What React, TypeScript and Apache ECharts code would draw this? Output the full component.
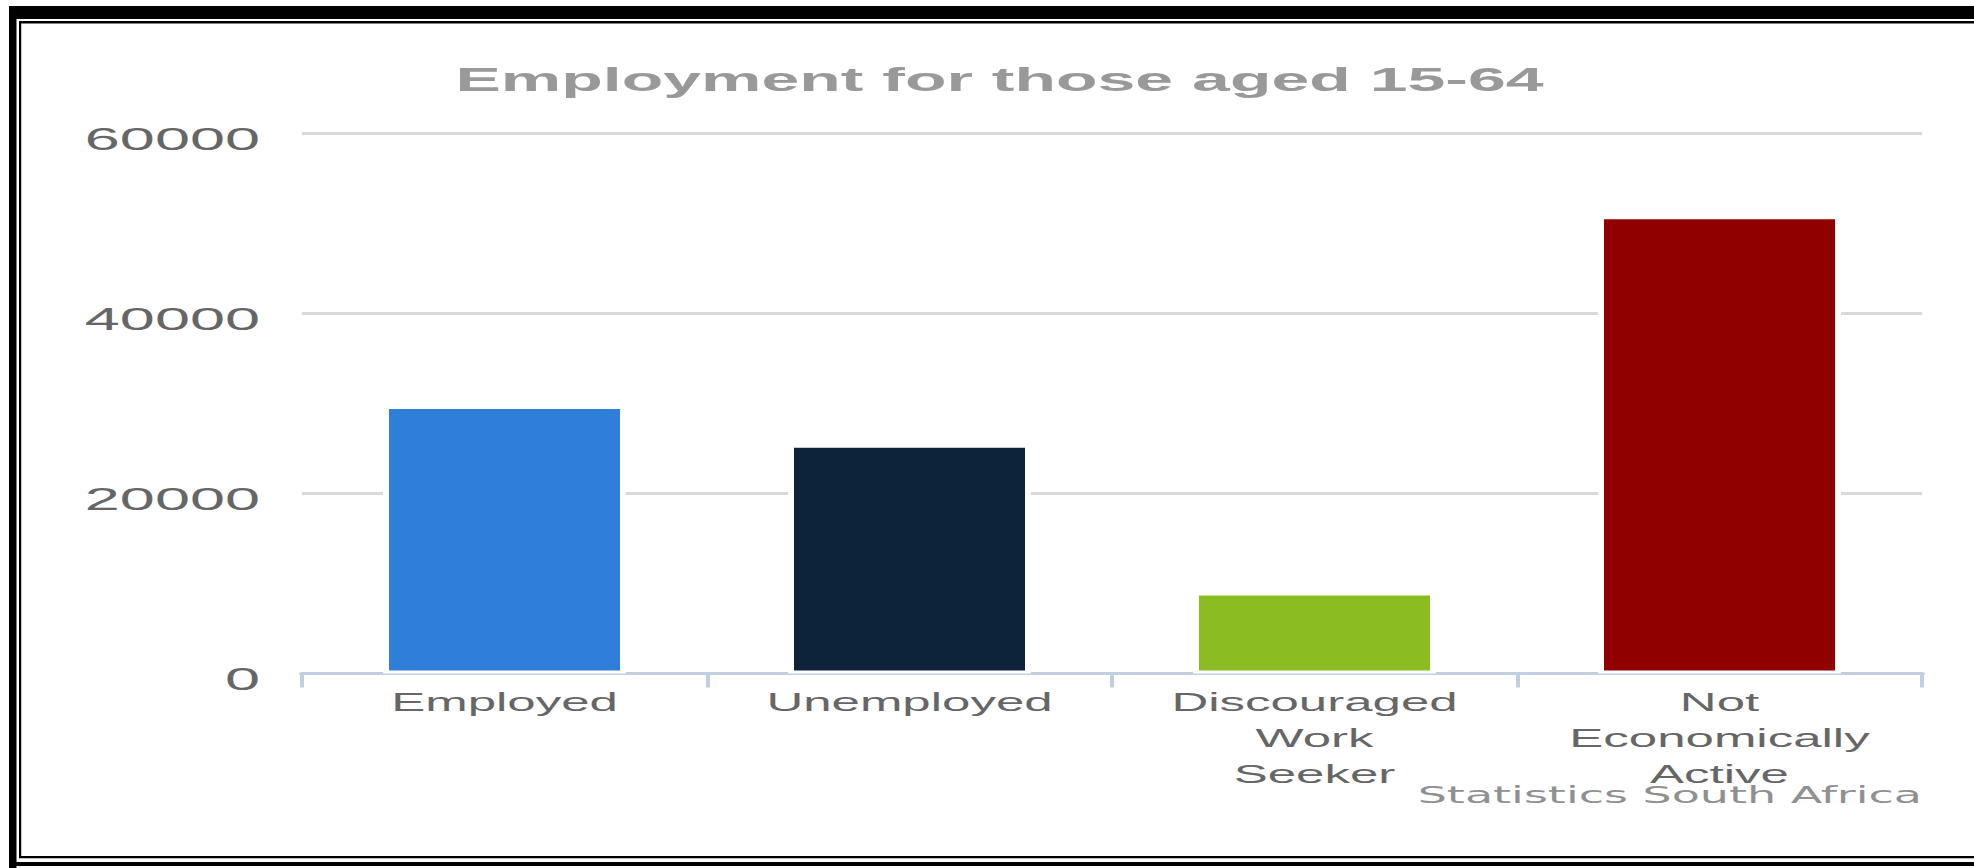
import React, { useEffect, useRef } from "react";
import * as echarts from "echarts";

const TITLE = "Employment for those aged 15-64";
const CREDIT = "Statistics South Africa";
const categories = ["Employed", "Unemployed", "Discouraged Work Seeker", "Not Economically Active"];
const values = [29700, 25400, 9000, 50800];
const barColors = ["#2f7ed8", "#0d233a", "#8bbc21", "#910000"];
const yTicks = [0, 20000, 40000, 60000];

const FULL_W = 1974;
const H = 868;
const SX = 2; // horizontal stretch of the reference
const W = FULL_W / SX;

export default function App() {
  const ref = useRef<HTMLDivElement>(null);
  useEffect(() => {
    if (!ref.current) return;
    const chart = echarts.init(ref.current, undefined, { renderer: "svg", width: W, height: H });
    const frame = "#000";
    chart.setOption({
      animation: false,
      backgroundColor: "#fff",
      grid: { left: 151, right: W - 961, top: 133.3, bottom: H - 673.5, containLabel: false },
      xAxis: {
        type: "category",
        data: categories,
        axisLine: { show: true, lineStyle: { color: "#c0d0e0", width: 3 } },
        axisTick: { show: true, length: 14, lineStyle: { color: "#c0d0e0", width: 2 } },
        axisLabel: {
          interval: 0,
          color: "#666",
          fontFamily: "Liberation Sans",
          fontSize: 25.5,
          lineHeight: 36,
          margin: 11,
          formatter: (v: string) => v.split(" ").join("\n"),
        },
        splitLine: { show: false },
      },
      yAxis: {
        type: "value",
        min: yTicks[0],
        max: yTicks[yTicks.length - 1],
        interval: yTicks[1] - yTicks[0],
        axisLine: { show: false },
        axisTick: { show: false },
        axisLabel: {
          color: "#666",
          fontFamily: "Liberation Sans",
          fontSize: 31.5,
          margin: 21,
          verticalAlign: "top",
          lineHeight: 12,
          formatter: (v: number) => String(v),
        },
        splitLine: { show: true, lineStyle: { color: "#d9d9d9", width: 3 } },
      },
      series: [
        {
          type: "bar",
          barWidth: "60%",
          data: values.map((v, i) => ({
            value: v,
            itemStyle: { color: barColors[i], borderColor: "#fff", borderWidth: 3 },
          })),
        },
      ],
      graphic: [
        { type: "text", x: 499.75, y: 79, style: { text: TITLE, align: "center", verticalAlign: "middle", font: "bold 34px 'Liberation Sans'", fill: "#999" } },
        { type: "text", x: 961, y: 795, z: 10, style: { text: CREDIT, align: "right", verticalAlign: "middle", font: "23px 'DejaVu Sans'", fill: "#909090" } },
        // frame
        { type: "rect", shape: { x: 4.5, y: 6, width: W - 4.5, height: 13 }, style: { fill: frame } },
        { type: "rect", shape: { x: 4.5, y: 6, width: 3.75, height: H - 6 }, style: { fill: frame } },
        { type: "rect", shape: { x: 4.5, y: 862, width: W - 4.5, height: 4 }, style: { fill: frame } },
        { type: "rect", shape: { x: 9.5, y: 21, width: W - 9.5, height: 2.5 }, style: { fill: frame } },
        { type: "rect", shape: { x: 9.5, y: 21, width: 1.1, height: 837 }, style: { fill: frame } },
        { type: "rect", shape: { x: 9.5, y: 856, width: W - 9.5, height: 2.3 }, style: { fill: frame } },
      ],
    });
    return () => chart.dispose();
  }, []);
  return (
    <div style={{ position: "absolute", left: 0, top: 0, width: FULL_W, height: H, overflow: "hidden", background: "#fff" }}>
      <div
        ref={ref}
        style={{ width: W, height: H, transform: `scaleX(${SX})`, transformOrigin: "0 0" }}
      />
    </div>
  );
}
